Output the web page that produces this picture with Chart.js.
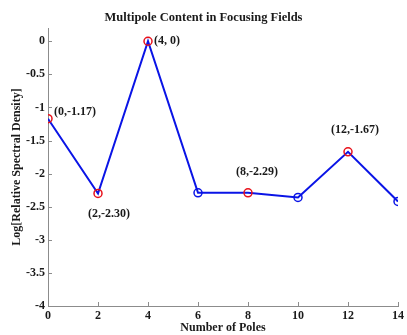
<!DOCTYPE html>
<html>
<head>
<meta charset="utf-8">
<script src="https://cdn.jsdelivr.net/npm/chart.js@4.4.0/dist/chart.umd.min.js"></script>
<style>
  html, body { margin: 0; padding: 0; background: #fff; }
  #wrap { width: 407px; height: 335px; }
</style>
</head>
<body>
<div id="wrap"><canvas id="chart-multipole"></canvas></div>
<script>
// Datos del gráfico
const numPoles = [0, 2, 4, 6, 8, 10, 12, 14];
const logDensity = [-1.17, -2.30, 0, -2.29, -2.29, -2.36, -1.67, -2.42];
const pointNotes = ['(0,-1.17)', '(2,-2.30)', '(4, 0)', null, '(8,-2.29)', null, '(12,-1.67)', null];
const xTicks = [0, 2, 4, 6, 8, 10, 12, 14];
const yTicks = [0, -0.5, -1, -1.5, -2, -2.5, -3, -3.5, -4];

const serif = "'Liberation Serif', 'Times New Roman', serif";
const axisGray = '#8c8c8c';
const textDark = '#1a1a1a';

// desplazamiento de cada anotación (px) respecto al punto
const noteStyle = [
    { dx: 6, dy: -7, align: 'left' },
    { dx: 11, dy: 20, align: 'center' },
    { dx: 6, dy: 0, align: 'left' },
    null,
    { dx: 9, dy: -21, align: 'center' },
    null,
    { dx: 7, dy: -22, align: 'center' },
    null
];

// Plugin: marcas de eje hacia dentro + anotaciones de puntos
const extras = {
    id: 'extras',
    afterDatasetsDraw(chart) {
        const { ctx, chartArea } = chart;
        const xs = chart.scales.x, ys = chart.scales.y;
        ctx.save();
        ctx.strokeStyle = axisGray;
        ctx.lineWidth = 1;
        ctx.beginPath();
        xTicks.forEach(v => {
            const px = Math.round(xs.getPixelForValue(v)) + 0.5;
            ctx.moveTo(px, chartArea.bottom);
            ctx.lineTo(px, chartArea.bottom - 4);
        });
        yTicks.forEach(v => {
            const py = Math.round(ys.getPixelForValue(v)) + 0.5;
            ctx.moveTo(chartArea.left, py);
            ctx.lineTo(chartArea.left + 4, py);
        });
        ctx.stroke();

        ctx.fillStyle = textDark;
        ctx.font = 'bold 12px ' + serif;
        ctx.textBaseline = 'middle';
        pointNotes.forEach((txt, i) => {
            if (!txt) return;
            const st = noteStyle[i];
            const px = xs.getPixelForValue(numPoles[i]);
            const py = ys.getPixelForValue(logDensity[i]);
            ctx.textAlign = st.align;
            ctx.fillText(txt, px + st.dx, py + st.dy);
        });
        ctx.restore();
    }
};

const ctx = document.getElementById('chart-multipole').getContext('2d');
new Chart(ctx, {
    type: 'line',
    data: {
        datasets: [{
            data: numPoles.map((x, i) => ({ x: x, y: logDensity[i] })),
            borderColor: '#0a14e6',
            borderWidth: 2,
            tension: 0,
            fill: false,
            pointRadius: 4,
            pointBorderWidth: 1.5,
            pointBackgroundColor: 'rgba(0,0,0,0)',
            pointBorderColor: pointNotes.map(n => n ? '#e8101a' : '#0a14e6')
        }]
    },
    options: {
        responsive: true,
        maintainAspectRatio: false,
        animation: false,
        layout: { padding: { left: 0, right: 0, top: 0, bottom: 0 } },
        plugins: {
            legend: { display: false },
            tooltip: { enabled: false },
            title: {
                display: true,
                text: 'Multipole Content in Focusing Fields',
                color: textDark,
                font: { family: serif, size: 12.5, weight: 'bold' },
                padding: { top: 10, bottom: 3 }
            }
        },
        scales: {
            x: {
                type: 'linear',
                min: 0,
                max: 14,
                afterBuildTicks: s => { s.ticks = xTicks.map(v => ({ value: v })); },
                afterFit: s => { s.height = 29; },
                grid: { display: false, drawTicks: false, tickLength: 0 },
                border: { color: axisGray, width: 1 },
                ticks: {
                    padding: 3,
                    color: textDark,
                    font: { family: serif, size: 12, weight: 'bold' },
                    maxRotation: 0
                },
                title: {
                    display: true,
                    text: 'Number of Poles',
                    color: textDark,
                    font: { family: serif, size: 12, weight: 'bold' },
                    padding: { top: 0, bottom: 0 }
                }
            },
            y: {
                type: 'linear',
                min: -4,
                max: 0.2,
                afterBuildTicks: s => { s.ticks = yTicks.map(v => ({ value: v })); },
                afterFit: s => { s.width = 48; },
                grid: { display: false, drawTicks: false, tickLength: 0 },
                border: { color: axisGray, width: 1 },
                ticks: {
                    padding: 3,
                    color: textDark,
                    font: { family: serif, size: 12, weight: 'bold' },
                    callback: v => String(v)
                },
                title: {
                    display: true,
                    text: 'Log[Relative Spectral Density]',
                    color: textDark,
                    font: { family: serif, size: 12, weight: 'bold' },
                    padding: { top: 10, bottom: 0 }
                }
            }
        }
    },
    plugins: [extras]
});
</script>
</body>
</html>
